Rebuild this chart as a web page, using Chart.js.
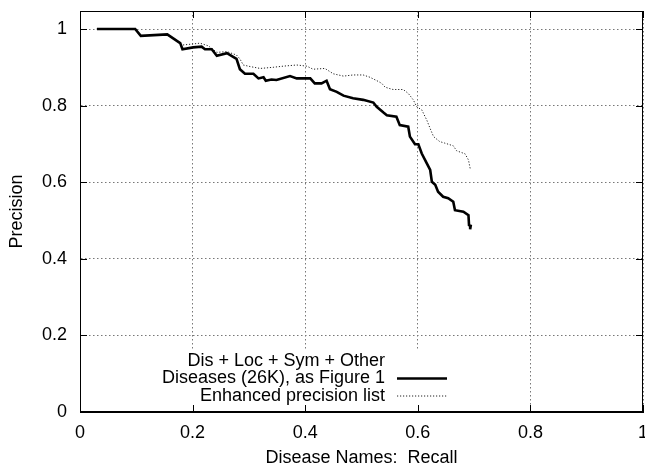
<!DOCTYPE html>
<html>
<head>
<meta charset="utf-8">
<script src="https://cdn.jsdelivr.net/npm/chart.js@4.4.1/dist/chart.umd.min.js"></script>
<style>
  html, body { margin: 0; padding: 0; background: #fff; }
  canvas { display: block; }
</style>
</head>
<body>
<canvas id="prChart" width="645" height="467"></canvas>
<script>
/* ~~~~~~~~~~ DATA ~~~~~~~~~~*/

const xTicks = [0, 0.2, 0.4, 0.6, 0.8, 1];
const yTicks = [0, 0.2, 0.4, 0.6, 0.8, 1];

const legendTitle = 'Dis + Loc + Sym + Other';
const seriesNames = ['Diseases (26K), as Figure 1', 'Enhanced precision list'];

const diseasesRecall = [
  0.03, 0.098, 0.108, 0.155, 0.178, 0.182, 0.201, 0.216, 0.222, 0.234,
  0.243, 0.261, 0.278, 0.284, 0.293, 0.308, 0.317, 0.326, 0.330, 0.340,
  0.349, 0.373, 0.385, 0.409, 0.417, 0.429, 0.438, 0.444, 0.456, 0.468,
  0.485, 0.503, 0.521, 0.527, 0.539, 0.545, 0.562, 0.568, 0.583, 0.586,
  0.595, 0.601, 0.607, 0.616, 0.622, 0.625, 0.631, 0.636, 0.645, 0.654,
  0.663, 0.666, 0.681, 0.690, 0.691, 0.694, 0.693
];
const diseasesPrecision = [
  1.0, 1.0, 0.982, 0.986, 0.963, 0.947, 0.952, 0.954, 0.947, 0.947,
  0.930, 0.937, 0.922, 0.895, 0.883, 0.883, 0.871, 0.874, 0.865, 0.868,
  0.867, 0.877, 0.871, 0.871, 0.858, 0.858, 0.865, 0.843, 0.836, 0.826,
  0.819, 0.815, 0.808, 0.797, 0.782, 0.775, 0.771, 0.749, 0.745, 0.719,
  0.699, 0.699, 0.675, 0.649, 0.632, 0.601, 0.593, 0.575, 0.562, 0.558,
  0.549, 0.527, 0.523, 0.514, 0.488, 0.486, 0.477
];

const enhancedRecall = [
  0.03, 0.098, 0.108, 0.155, 0.178, 0.181, 0.201, 0.213, 0.228, 0.243,
  0.261, 0.278, 0.284, 0.290, 0.302, 0.320, 0.343, 0.361, 0.385, 0.403,
  0.414, 0.435, 0.450, 0.468, 0.485, 0.503, 0.515, 0.530, 0.536, 0.542,
  0.556, 0.574, 0.583, 0.592, 0.598, 0.607, 0.616, 0.622, 0.628, 0.639,
  0.648, 0.663, 0.669, 0.684, 0.690, 0.693
];
const enhancedPrecision = [
  1.0, 1.0, 0.982, 0.986, 0.963, 0.958, 0.961, 0.963, 0.956, 0.939,
  0.941, 0.932, 0.922, 0.906, 0.902, 0.897, 0.900, 0.903, 0.906, 0.903,
  0.895, 0.897, 0.883, 0.877, 0.880, 0.880, 0.874, 0.863, 0.858, 0.848,
  0.842, 0.842, 0.832, 0.815, 0.797, 0.789, 0.762, 0.740, 0.719, 0.706,
  0.702, 0.695, 0.682, 0.674, 0.658, 0.636
];

/* ~~~~~~~~~~ CHART ~~~~~~~~~~*/

const FONT = { family: '"Liberation Sans", Arial, Helvetica, sans-serif', size: 18 };

const toPoints = (xs, ys) => xs.map((x, i) => ({ x: x, y: ys[i] }));

// gnuplot style: full frame, inward ticks on every side, opaque key box
const frameAndKey = {
  id: 'frameAndKey',
  beforeDatasetsDraw(chart) {
    const { ctx, chartArea: a } = chart;
    ctx.save();
    ctx.fillStyle = '#fff';
    ctx.fillRect(a.left + 70, a.bottom - 63, 302, 62);
    ctx.restore();
  },
  afterDatasetsDraw(chart) {
    const { ctx, chartArea: a, scales } = chart;
    ctx.save();
    ctx.strokeStyle = '#000';
    ctx.lineWidth = 1;
    ctx.setLineDash([]);
    ctx.strokeRect(a.left + 0.5, a.top + 0.5, a.right - a.left - 1, a.bottom - a.top - 1);

    ctx.beginPath();
    xTicks.forEach(v => {
      const px = Math.round(scales.x.getPixelForValue(v)) + 0.5;
      ctx.moveTo(px, a.bottom); ctx.lineTo(px, a.bottom - 7);
      ctx.moveTo(px, a.top); ctx.lineTo(px, a.top + 7);
    });
    yTicks.forEach(v => {
      const py = Math.round(scales.y.getPixelForValue(v)) + 0.5;
      ctx.moveTo(a.left, py); ctx.lineTo(a.left + 7, py);
      ctx.moveTo(a.right, py); ctx.lineTo(a.right - 7, py);
    });
    ctx.stroke();

    // key
    ctx.font = FONT.size + 'px ' + FONT.family;
    ctx.fillStyle = '#000';
    ctx.textAlign = 'right';
    ctx.textBaseline = 'middle';
    const tx = a.left + 305;
    const rows = [a.bottom - 51, a.bottom - 33.5, a.bottom - 16];
    ctx.fillText(legendTitle, tx, rows[0]);
    chart.data.datasets.forEach((ds, i) => {
      const y = rows[i + 1];
      ctx.fillText(ds.label, tx, y);
      ctx.beginPath();
      ctx.strokeStyle = ds.borderColor;
      ctx.lineWidth = ds.borderWidth;
      ctx.setLineDash(ds.borderDash || []);
      ctx.moveTo(tx + 12, y);
      ctx.lineTo(tx + 62, y);
      ctx.stroke();
    });
    ctx.restore();
  }
};

new Chart(document.getElementById('prChart').getContext('2d'), {
  type: 'line',
  data: {
    datasets: [
      {
        label: seriesNames[0],
        data: toPoints(diseasesRecall, diseasesPrecision),
        borderColor: '#000',
        borderWidth: 2.6,
        pointRadius: 0,
        tension: 0,
        fill: false
      },
      {
        label: seriesNames[1],
        data: toPoints(enhancedRecall, enhancedPrecision),
        borderColor: '#222',
        borderWidth: 1,
        borderDash: [1.2, 1.8],
        pointRadius: 0,
        tension: 0,
        fill: false
      }
    ]
  },
  options: {
    responsive: false,
    animation: false,
    layout: { padding: { top: 11, right: 2, left: 0, bottom: 0 } },
    plugins: {
      legend: { display: false },
      tooltip: { enabled: false }
    },
    scales: {
      x: {
        type: 'linear',
        min: 0,
        max: 1,
        afterBuildTicks: s => { s.ticks = xTicks.map(v => ({ value: v })); },
        afterFit: s => { s.height = 55; s.paddingLeft = 0; s.paddingRight = 0; },
        ticks: { font: FONT, color: '#000', padding: 10, maxRotation: 0, callback: v => String(v) },
        grid: { color: '#777', lineWidth: 1, drawTicks: false },
        border: { display: true, color: '#000', dash: [1.5, 2.5] },
        title: { display: true, text: 'Disease Names:  Recall', color: '#000',
                 font: { family: FONT.family, size: 18, lineHeight: 1 }, padding: { top: 0, bottom: 0 } }
      },
      y: {
        type: 'linear',
        min: 0,
        max: 1.047,
        afterBuildTicks: s => { s.ticks = yTicks.map(v => ({ value: v })); },
        afterFit: s => { s.width = 80; s.paddingTop = 0; s.paddingBottom = 0; },
        ticks: { font: FONT, color: '#000', padding: 13, callback: v => String(v) },
        grid: { color: '#777', lineWidth: 1, drawTicks: false },
        border: { display: true, color: '#000', dash: [1.5, 2.5] },
        title: { display: true, text: 'Precision', color: '#000',
                 font: { family: FONT.family, size: 18, lineHeight: 1 }, padding: { top: 8, bottom: 0 } }
      }
    }
  },
  plugins: [frameAndKey]
});
</script>
</body>
</html>
